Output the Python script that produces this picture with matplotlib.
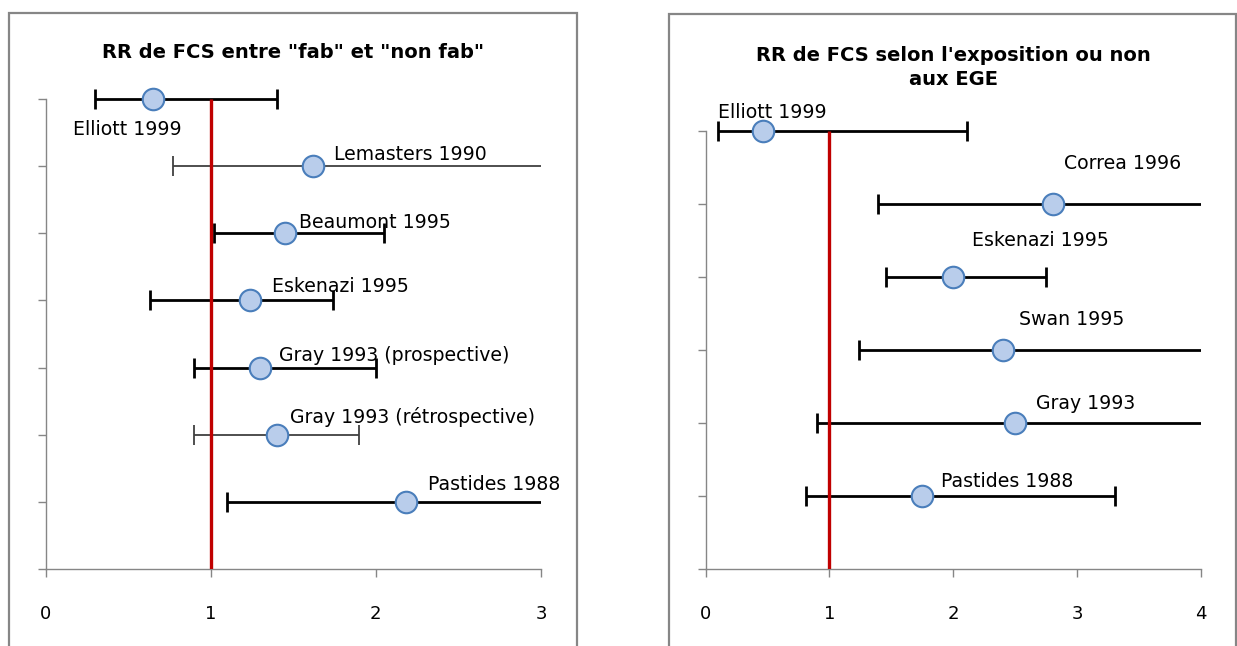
import matplotlib
matplotlib.use("Agg")
import matplotlib.pyplot as plt
import numpy as np
from matplotlib.patches import Rectangle

# Panneau gauche : "fab" vs "non fab"
etudes_fab = ["Elliott 1999", "Lemasters 1990", "Beaumont 1995", "Eskenazi 1995",
              "Gray 1993 (prospective)", "Gray 1993 (rétrospective)", "Pastides 1988"]
rr_fab = [0.65, 1.62, 1.45, 1.24, 1.30, 1.40, 2.18]
ic_bas_fab = [0.30, 0.77, 1.02, 0.63, 0.90, 0.90, 1.10]
ic_haut_fab = [1.40, 3.50, 2.05, 1.74, 2.00, 1.90, 3.50]

# Panneau droit : exposition aux EGE
etudes_ege = ["Elliott 1999", "Correa 1996", "Eskenazi 1995", "Swan 1995",
              "Gray 1993", "Pastides 1988"]
rr_ege = [0.46, 2.80, 2.00, 2.40, 2.50, 1.75]
ic_bas_ege = [0.10, 1.39, 1.46, 1.24, 0.90, 0.81]
ic_haut_ege = [2.11, 4.50, 2.75, 4.50, 4.50, 3.30]

# styles / positions des etiquettes (pixels)
fin_fab = [False, True, False, False, False, True, False]
decal_fab = [(-80, -31), (21, 12), (14, 11), (22, 14), (19, 12), (13, 18), (22, 17)]
decal_ege = [(-45, 19), (11, 41), (19, 37), (16, 31), (21, 20), (19, 15)]

GRIS = "#868686"
ROUGE = "#C00000"


def panneau(ax, etudes, rr, bas, haut, fins, decal, xmax):
    n = len(etudes)
    y = np.arange(n, 0, -1)
    rr = np.array(rr)
    bas = np.array(bas)
    haut = np.array(haut)
    for i in range(n):
        couleur = "#404040" if fins[i] else "black"
        lw = 1.3 if fins[i] else 2.0
        ax.errorbar(rr[i], y[i], xerr=[[rr[i] - bas[i]], [haut[i] - rr[i]]],
                    fmt="none", ecolor=couleur, elinewidth=lw, capsize=7,
                    capthick=lw, zorder=2)
    ax.plot([1, 1], [0, n], color=ROUGE, lw=2.4, zorder=3, solid_capstyle="butt")
    ax.plot(rr, y, "o", ms=15.5, mfc="#B9CDEB", mec="#4A7EBB", mew=1.5,
            zorder=4, linestyle="none")
    for i in range(n):
        ax.annotate(etudes[i], (rr[i], y[i]), xytext=decal[i],
                    textcoords="offset pixels", ha="left", va="center",
                    fontsize=13.6, zorder=5, annotation_clip=False)
    ax.set_xlim(0, xmax)
    ax.set_ylim(0, n + 0.5)
    ax.set_xticks(range(xmax + 1))
    ax.set_yticks(range(n + 1))
    ax.set_yticklabels([])
    ax.spines["top"].set_visible(False)
    ax.spines["right"].set_visible(False)
    ax.spines["left"].set_bounds(0, n)
    for s in ["left", "bottom"]:
        ax.spines[s].set_color(GRIS)
        ax.spines[s].set_linewidth(1.0)
    ax.tick_params(axis="both", direction="out", length=6, width=1.0,
                   color=GRIS, labelsize=13, pad=20)
    ax.tick_params(axis="y", pad=2)


fig = plt.figure(figsize=(12.37, 6.46), dpi=100)

# cadres
fig.add_artist(Rectangle((9.3 / 1237, -0.1), (576.7 - 9.3) / 1237, 1 - 13 / 646 + 0.1,
                         transform=fig.transFigure, fill=False, ec=GRIS, lw=1.6))
fig.add_artist(Rectangle((669 / 1237, -0.1), (1236 - 669) / 1237, 1 - 14 / 646 + 0.1,
                         transform=fig.transFigure, fill=False, ec=GRIS, lw=1.6))

ax1 = fig.add_axes([45.5 / 1237, 1 - 569 / 646, (541 - 45.5) / 1237, 503.6 / 646])
panneau(ax1, etudes_fab, rr_fab, ic_bas_fab, ic_haut_fab, fin_fab, decal_fab, 3)

ax2 = fig.add_axes([705.5 / 1237, 1 - 569.3 / 646, (1201.3 - 705.5) / 1237, 474.3 / 646])
panneau(ax2, etudes_ege, rr_ege, ic_bas_ege, ic_haut_ege, [False] * 6, decal_ege, 4)

fig.text(293 / 1237, 1 - 52 / 646, 'RR de FCS entre "fab" et "non fab"',
         ha="center", va="center", fontsize=14, fontweight="bold")
fig.text(953.6 / 1237, 1 - 67.5 / 646, "RR de FCS selon l'exposition ou non\naux EGE",
         ha="center", va="center", fontsize=14, fontweight="bold", linespacing=1.35)

fig.savefig("out.png", dpi=100)
